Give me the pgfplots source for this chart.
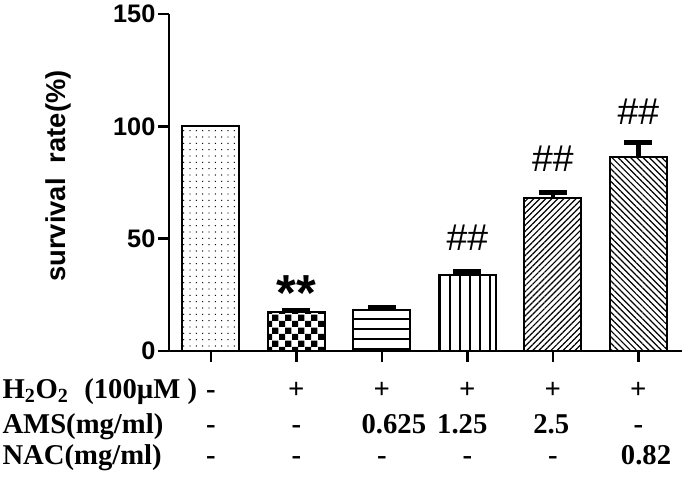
\documentclass[border=0pt]{standalone}
\usepackage{pgfplots}
\pgfplotsset{compat=1.18}
\usepackage{fontspec}
\setmainfont{Liberation Serif}
\newfontfamily\arialfont{Liberation Sans}
\usetikzlibrary{patterns,patterns.meta}
\pgfdeclarepatternformonly{checker}{\pgfpointorigin}{\pgfqpoint{9.5pt}{9.5pt}}{\pgfqpoint{9.5pt}{9.5pt}}{%
  \pgfpathrectangle{\pgfpointorigin}{\pgfqpoint{4.75pt}{4.75pt}}%
  \pgfpathrectangle{\pgfqpoint{4.75pt}{4.75pt}}{\pgfqpoint{4.75pt}{4.75pt}}%
  \pgfusepath{fill}}
\begin{document}
\begin{tikzpicture}
\path[use as bounding box] (-126.75pt,-96pt) rectangle (385.5pt,263.25pt);
\begin{axis}[
  at={(0,0)}, anchor=south west,
  scale only axis, width=384.75pt, height=252.75pt,
  xmin=-0.49, xmax=5.51, ymin=0, ymax=150,
  axis x line=bottom, axis y line=left,
  axis line style={-, line width=2pt},
  tick style={line width=2pt, black},
  tick align=outside, major tick length=8pt,
  xtick={0,1,2,3,4,5}, xticklabels={},
  ytick={0,50,100,150},
  yticklabel style={font=\arialfont\bfseries\fontsize{19}{22}\selectfont, inner sep=2pt},
  /pgf/number format/assume math mode=true,
  clip=false,
  ybar, bar width=42.75pt, bar shift=0pt,
  every axis plot/.append style={draw=black, line width=1.5pt},
  error bars/error bar style={line width=3.5pt},
  error bars/error mark options={rotate=90, mark size=10.5pt, line width=3.75pt},
]
\addplot[pattern={Dots[distance=4.75pt, radius=0.55pt]}] coordinates {(0,100)};
\addplot[pattern=checker, error bars/.cd, y dir=plus, y explicit] coordinates {(1,17.4) +- (0,0.8)};
\addplot[pattern={Lines[angle=0, distance=7.5pt, line width=1.4pt]}, error bars/.cd, y dir=plus, y explicit] coordinates {(2,18.3) +- (0,0.9)};
\addplot[pattern={Lines[angle=90, distance=7.5pt, line width=1.2pt]}, error bars/.cd, y dir=plus, y explicit] coordinates {(3,33.9) +- (0,1.5)};
\addplot[pattern={Lines[angle=45, distance=3.2pt, line width=0.9pt]}, error bars/.cd, y dir=plus, y explicit] coordinates {(4,68.2) +- (0,2.2)};
\addplot[pattern={Lines[angle=-45, distance=3.3pt, line width=0.9pt]}, error bars/.cd, y dir=plus, y explicit] coordinates {(5,86.5) +- (0,6.5)};
% y label
\node[rotate=90, font=\arialfont\bfseries\fontsize{20.5}{24}\selectfont] at (axis cs:-1.78,77.9) {survival\ \ rate(\%)};
% annotations
\node[font=\arialfont\bfseries\fontsize{38}{38}\selectfont] at (axis cs:1,26) {**};
\node[font=\arialfont\fontsize{28}{30}\selectfont] at (axis cs:3,50.5) {\#\#};
\node[font=\arialfont\fontsize{28}{30}\selectfont] at (axis cs:4,85.8) {\#\#};
\node[font=\arialfont\fontsize{28}{30}\selectfont] at (axis cs:5,106.5) {\#\#};
% table below the axis
\begin{scope}[every node/.style={font=\bfseries\fontsize{21.5}{24}\selectfont, text height=0.68em, text depth=0.22em, inner sep=0pt}]
\node[anchor=west] at (axis cs:-2.44,-19.6) {H\textsubscript{2}O\textsubscript{2}\hspace{0.3em} (100µM )};
\node[anchor=west] at (axis cs:-2.44,-35.2) {AMS(mg/ml)};
\node[anchor=west] at (axis cs:-2.44,-49.0) {NAC(mg/ml)};
\node at (axis cs:0,-19.6) {-};
\node at (axis cs:1,-19.6) {+};
\node at (axis cs:2,-19.6) {+};
\node at (axis cs:3,-19.6) {+};
\node at (axis cs:4,-19.6) {+};
\node at (axis cs:5,-19.6) {+};
\node at (axis cs:0,-35.2) {-};
\node at (axis cs:1,-35.2) {-};
\node at (axis cs:2.14,-35.2) {0.625};
\node at (axis cs:2.94,-35.2) {1.25};
\node at (axis cs:3.98,-35.2) {2.5};
\node at (axis cs:5,-35.2) {-};
\node at (axis cs:0,-49.0) {-};
\node at (axis cs:1,-49.0) {-};
\node at (axis cs:2,-49.0) {-};
\node at (axis cs:3,-49.0) {-};
\node at (axis cs:4,-49.0) {-};
\node at (axis cs:5.09,-49.0) {0.82};
\end{scope}
\end{axis}
\end{tikzpicture}
\end{document}
